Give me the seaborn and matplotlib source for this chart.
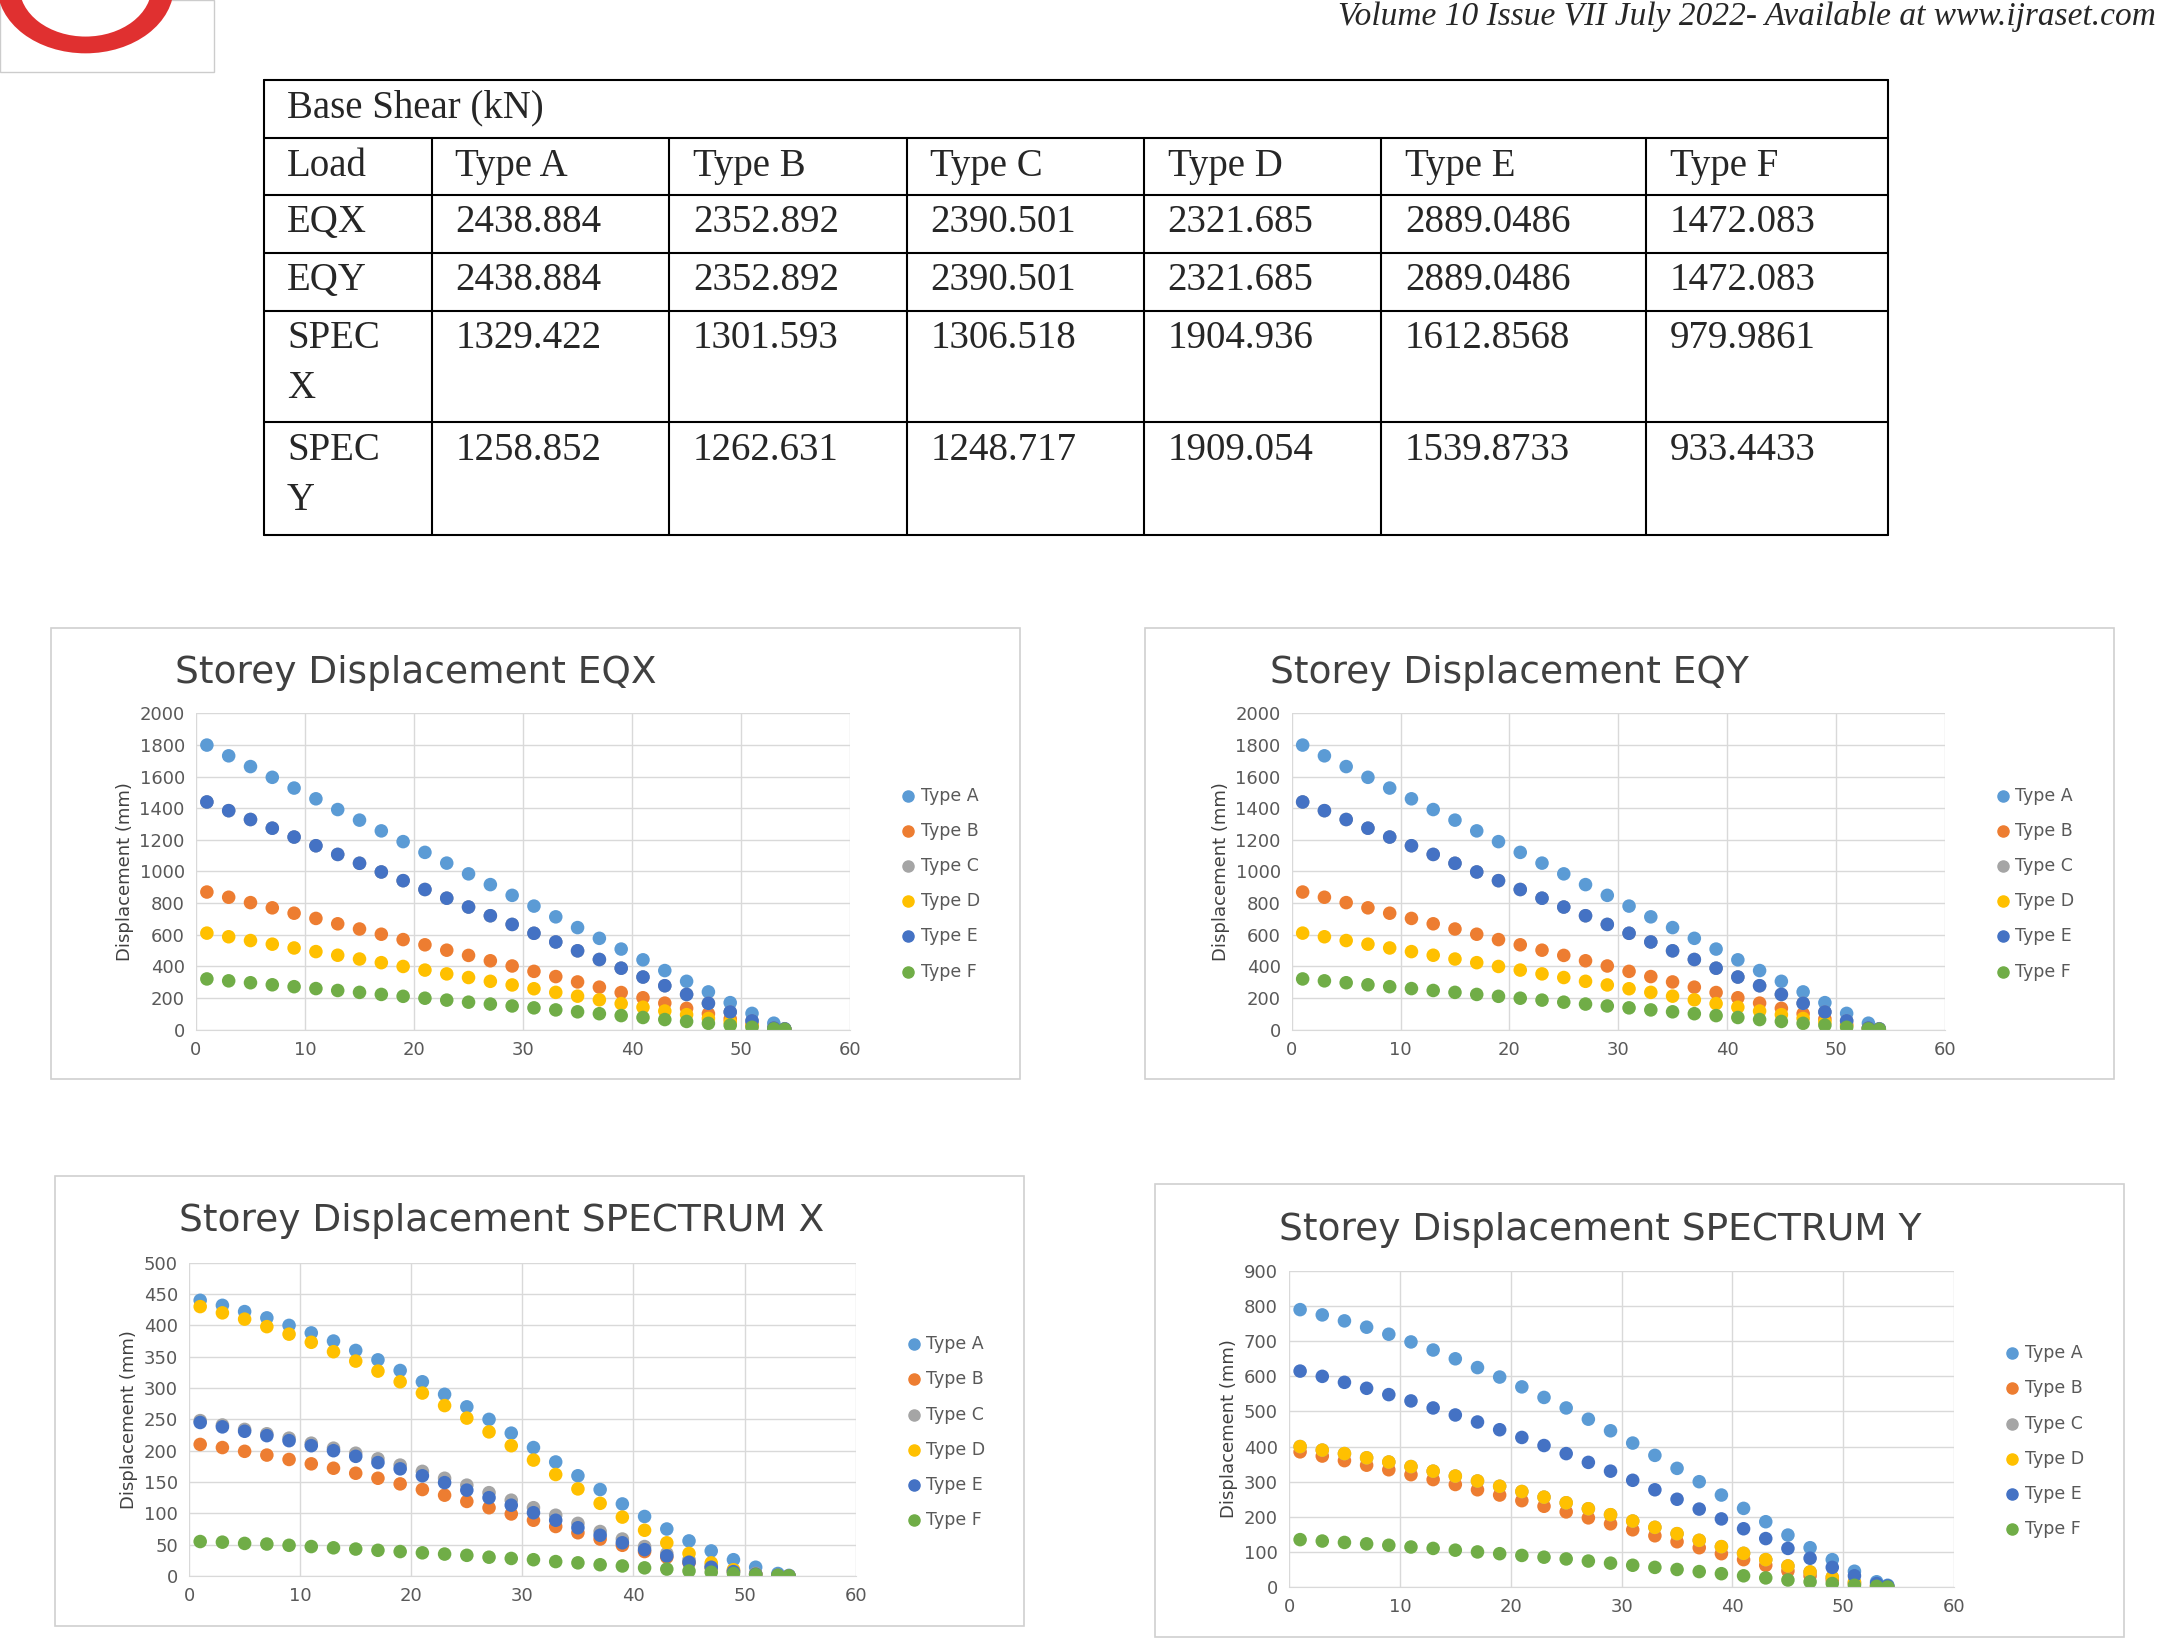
import matplotlib
matplotlib.use('Agg')
import matplotlib.pyplot as plt
import seaborn as sns
import pandas as pd
from matplotlib.patches import Rectangle, Circle

#%% Data
storey = [1,3,5,7,9,11,13,15,17,19,21,23,25,27,29,31,33,35,37,39,41,43,45,47,49,51,53,54]
types = ['Type A', 'Type B', 'Type C', 'Type D', 'Type E', 'Type F']

eqx_a = [1800,1732,1664,1596,1528,1460,1392,1325,1257,1189,1121,1053,985,917,849,781,713,645,577,509,441,373,305,238,170,102,40,5]
eqx_b = [870,837,803,770,736,703,669,636,603,569,536,502,469,435,402,368,335,301,268,234,201,167,134,100,67,33,8,2]
eqx_e = [1440,1385,1329,1274,1218,1163,1108,1052,997,942,886,831,775,720,665,609,554,498,443,388,332,277,222,166,111,55,10,3]
eqx_c = eqx_e
eqx_d = [610,587,563,540,516,493,470,446,423,399,376,352,329,305,282,258,235,211,188,164,141,117,94,70,47,23,6,1]
eqx_f = [320,308,296,283,271,259,247,235,222,210,198,186,173,161,149,137,124,112,100,88,76,63,51,39,27,14,4,1]

spx_a = [440,432,422,412,400,388,375,360,345,328,310,290,270,250,228,205,182,160,138,115,95,75,56,40,26,14,4,1]
spx_b = [210,205,199,193,186,179,172,164,156,147,138,129,119,109,99,89,79,69,59,49,39,30,21,13,7,3,1,0]
spx_c = [248,241,234,227,220,212,204,196,187,177,167,156,145,133,121,109,97,84,71,59,47,36,26,17,9,4,1,0]
spx_d = [430,420,410,398,386,373,358,343,327,310,292,272,252,230,208,185,162,139,116,94,73,53,36,21,10,3,0,0]
spx_e = [245,238,231,224,216,208,200,191,181,171,160,149,137,125,113,101,89,77,65,53,42,32,22,14,7,3,1,0]
spx_f = [55,54,52,51,49,47,45,43,41,39,37,35,33,30,28,26,23,21,18,16,13,11,8,6,4,2,1,0]

spy_a = [790,775,758,740,720,698,675,650,625,598,570,540,510,478,445,410,375,338,300,262,224,186,148,112,78,45,15,5]
spy_b = [385,373,360,347,334,320,306,292,277,262,246,230,214,197,180,163,146,129,112,95,78,62,46,32,20,9,2,0]
spy_d = [400,390,380,368,356,343,330,316,302,287,272,256,240,223,206,188,170,152,133,115,96,78,60,43,28,14,4,1]
spy_c = spy_d
spy_e = [615,600,583,566,548,530,510,490,470,448,426,403,380,355,330,304,277,250,222,194,166,138,110,82,56,32,10,3]
spy_f = [135,131,127,123,119,114,110,105,100,95,90,85,80,74,68,62,56,50,44,38,32,26,20,15,10,5,2,0]

table_rows = [['Load', 'Type A', 'Type B', 'Type C', 'Type D', 'Type E', 'Type F'],
              ['EQX', '2438.884', '2352.892', '2390.501', '2321.685', '2889.0486', '1472.083'],
              ['EQY', '2438.884', '2352.892', '2390.501', '2321.685', '2889.0486', '1472.083'],
              ['SPEC\nX', '1329.422', '1301.593', '1306.518', '1904.936', '1612.8568', '979.9861'],
              ['SPEC\nY', '1258.852', '1262.631', '1248.717', '1909.054', '1539.8733', '933.4433']]

colors = ['#5B9BD5', '#ED7D31', '#A5A5A5', '#FFC000', '#4472C4', '#70AD47']

#%% Figure (coords given in a 1568x1192 reference frame)
W, H = 1568, 1192
fig = plt.figure(figsize=(21.64, 16.45), dpi=100)
sns.set_style('white')

def fx(x): return x / W
def fy(y): return 1 - y / H

# header
fig.text(fx(1562), fy(12), 'Volume 10 Issue VII July 2022- Available at www.ijraset.com',
         ha='right', va='center', fontsize=24, style='italic', family='Liberation Serif')
fig.patches.append(Rectangle((0, fy(52)), fx(155), fy(0) - fy(52), transform=fig.transFigure,
                             fill=False, ec='#cccccc', lw=1))
fig.patches.append(Circle((fx(62), fy(-10)), fx(64), transform=fig.transFigure,
                          fc='#e03030', ec='none'))
fig.patches.append(Circle((fx(62), fy(-10)), fx(48), transform=fig.transFigure,
                          fc='white', ec='none'))

# table
cols = [191, 313, 485, 657, 829, 1001, 1193, 1368]
rows = [58, 100, 141, 183, 225, 306, 388]
for y in rows:
    fig.add_artist(plt.Line2D([fx(191), fx(1368)], [fy(y)] * 2, color='black', lw=1.5))
for i, x in enumerate(cols):
    y0 = 58 if i in (0, len(cols) - 1) else 100
    fig.add_artist(plt.Line2D([fx(x)] * 2, [fy(y0), fy(388)], color='black', lw=1.5))
tkw = dict(fontsize=28, family='Liberation Serif', va='top', linespacing=1.45)
fig.text(fx(208), fy(65), 'Base Shear (kN)', **tkw)
for r, row in enumerate(table_rows):
    for c, val in enumerate(row):
        fig.text(fx(cols[c] + 17), fy(rows[r + 1] + 7), val, **tkw)

#%% Charts
def chart(box, area, title, ymax, ystep, series):
    bx0, by0, bx1, by1 = box
    fig.patches.append(Rectangle((fx(bx0), fy(by1)), fx(bx1 - bx0), fy(by0) - fy(by1),
                                 transform=fig.transFigure, fill=False, ec='#d0d0d0', lw=1.2))
    x0, y0, x1, y1 = area
    ax = fig.add_axes([fx(x0), fy(y1), fx(x1 - x0), fy(y0) - fy(y1)])
    df = pd.DataFrame({'storey': storey * 6,
                       'disp': sum(series, []),
                       'type': [t for t in types for _ in storey]})
    sns.scatterplot(data=df, x='storey', y='disp', hue='type', palette=colors,
                    s=95, edgecolor='none', ax=ax, legend=False)
    ax.set_xlim(0, 60)
    ax.set_ylim(0, ymax)
    ax.set_xticks(range(0, 61, 10))
    ax.set_yticks(range(0, ymax + 1, ystep))
    ax.grid(True, color='#d9d9d9', lw=1)
    for s in ax.spines.values():
        s.set_visible(False)
    ax.spines['bottom'].set_visible(True)
    ax.spines['bottom'].set_color('#d9d9d9')
    ax.tick_params(labelsize=13, colors='#595959', length=0, pad=8)
    ax.set_xlabel(None)
    ax.set_ylabel('Displacement (mm)', fontsize=13, color='#404040')
    fig.text(fx(bx0 + 90), fy(by0 + 33), title, fontsize=27, color='#404040', va='center')
    # legend
    lx = x1 + 42
    ly = y0 + (y1 - y0) * 0.26
    for i, (t, c) in enumerate(zip(types, colors)):
        yy = ly + i * 25.5
        fig.add_artist(plt.Line2D([fx(lx)], [fy(yy)], marker='o', ms=8, color=c, ls='none'))
        fig.text(fx(lx + 9), fy(yy), t, fontsize=12.5, color='#595959', va='center')

eqx = [eqx_a, eqx_b, eqx_c, eqx_d, eqx_e, eqx_f]
chart((37, 455, 739, 782), (142, 517, 616, 746), 'Storey Displacement EQX', 2000, 200, eqx)
chart((830, 455, 1532, 782), (936, 517, 1409, 746), 'Storey Displacement EQY', 2000, 200, eqx)
chart((40, 852, 742, 1178), (137, 915, 620, 1142), 'Storey Displacement SPECTRUM X', 500, 50,
      [spx_a, spx_b, spx_c, spx_d, spx_e, spx_f])
chart((837, 858, 1539, 1186), (934, 921, 1416, 1150), 'Storey Displacement SPECTRUM Y', 900, 100,
      [spy_a, spy_b, spy_c, spy_d, spy_e, spy_f])

fig.savefig('out.png', dpi=100)
